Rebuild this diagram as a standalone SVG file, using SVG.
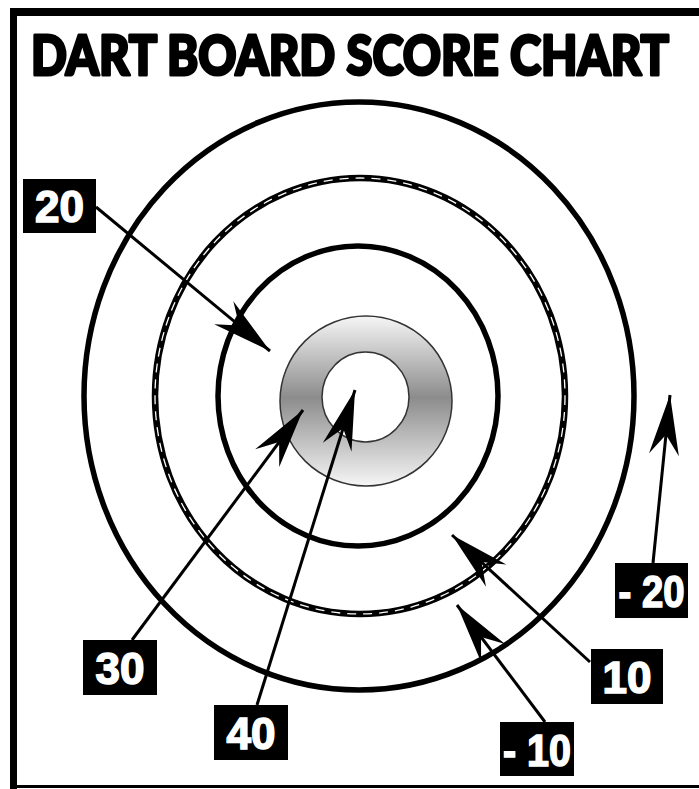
<svg xmlns="http://www.w3.org/2000/svg" width="699" height="789" viewBox="0 0 699 789">
<style>
.ring{fill:none;stroke:#000;stroke-width:5.5}
.conn{stroke:#000;stroke-width:3;fill:none;marker-end:url(#ah)}
.box{fill:#000}
.lbl{fill:#fff;stroke:#fff;stroke-width:1.6;font-family:"Liberation Sans",Arial,sans-serif;font-weight:bold;font-size:44px;text-anchor:middle}
.title{fill:#000;stroke:#000;stroke-width:3;stroke-linejoin:round;font-family:Lato,"Open Sans","Liberation Sans",sans-serif;font-weight:900;font-size:56px}
</style>
<defs>
<linearGradient id="g" x1="0" y1="0" x2="0" y2="1">
<stop offset="0" stop-color="#f6f6f6"/>
<stop offset="0.48" stop-color="#8c8c8c"/>
<stop offset="1" stop-color="#f6f6f6"/>
</linearGradient>
<marker id="ah" viewBox="-64 -16 66 32" refX="0" refY="0" markerWidth="66" markerHeight="32" orient="auto" markerUnits="userSpaceOnUse">
<path d="M0,0 L-60,-15 L-40,0 L-60,15 Z" fill="#000"/>
</marker>
</defs>
<rect width="699" height="789" fill="#fff"/>
<g id="border" fill="#000">
<rect x="10" y="8" width="7" height="781"/>
<rect x="10" y="8" width="689" height="8"/>
<rect x="10" y="785" width="689" height="3"/>
</g>
<text class="title" x="31" y="75" textLength="638" lengthAdjust="spacingAndGlyphs">DART BOARD SCORE CHART</text>
<g id="board">
<ellipse id="ring-outer" class="ring" cx="359" cy="396" rx="275" ry="294"/>
<g id="ring-second">
<ellipse cx="360" cy="396" rx="205" ry="218" fill="none" stroke="#000" stroke-width="6.5"/>
<ellipse cx="360" cy="396" rx="205" ry="218" fill="none" stroke="#fff" stroke-width="1.3" stroke-dasharray="9 7"/>
</g>
<ellipse id="ring-third" class="ring" cx="358" cy="396" rx="140" ry="150"/>
<ellipse id="ring-gray" cx="366" cy="401" rx="86" ry="85" fill="url(#g)" stroke="#333" stroke-width="1.5"/>
<ellipse id="bull" cx="365.5" cy="397" rx="43.5" ry="45" fill="#fff" stroke="#333" stroke-width="1.5"/>
</g>
<g id="connectors">
<line class="conn" x1="96" y1="207" x2="270" y2="351"/>
<line class="conn" x1="132" y1="640" x2="303" y2="410"/>
<line class="conn" x1="257" y1="705" x2="355" y2="390"/>
<line class="conn" x1="590" y1="662" x2="452" y2="535"/>
<line class="conn" x1="545" y1="722" x2="457" y2="605"/>
<line class="conn" x1="653" y1="563" x2="670" y2="395"/>
</g>
<g id="label-20"><rect class="box" x="23" y="179" width="73" height="54"/><text class="lbl" x="59.5" y="222">20</text></g>
<g id="label-30"><rect class="box" x="83" y="640" width="74" height="55"/><text class="lbl" x="120" y="684">30</text></g>
<g id="label-40"><rect class="box" x="214" y="705" width="74" height="55"/><text class="lbl" x="251" y="749">40</text></g>
<g id="label-10"><rect class="box" x="591" y="649" width="72" height="55"/><text class="lbl" x="627" y="693">10</text></g>
<g id="label-m10"><rect class="box" x="500" y="722" width="74" height="54"/><text class="lbl" x="537" y="766" textLength="68" lengthAdjust="spacingAndGlyphs">- 10</text></g>
<g id="label-m20"><rect class="box" x="615" y="563" width="73" height="55"/><text class="lbl" x="651.5" y="607" textLength="66" lengthAdjust="spacingAndGlyphs">- 20</text></g>
</svg>
